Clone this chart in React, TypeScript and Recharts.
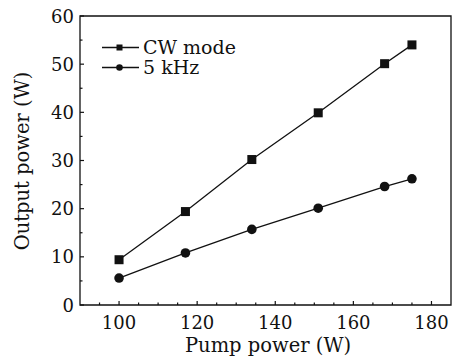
import React from "react";
import { LineChart, Line, XAxis, YAxis, ReferenceArea, Customized } from "recharts";

const pumpPower = [100, 117, 134, 151, 168, 175];
const cwMode = [9.4, 19.4, 30.2, 39.9, 50.1, 54.0];
const khz5 = [5.6, 10.8, 15.7, 20.1, 24.6, 26.2];
const xTicks = [95, 100, 105, 110, 115, 120, 125, 130, 135, 140, 145, 150, 155, 160, 165, 170, 175, 180];
const yTicks = [0, 5, 10, 15, 20, 25, 30, 35, 40, 45, 50, 55, 60];
const seriesNames = ["CW mode", "5 kHz"];

const data = pumpPower.map((p, i) => ({ pump: p, cw: cwMode[i], pulsed: khz5[i] }));

const FONT = "'DejaVu Serif', serif";
const INK = "#111";

const XTick = (props: any) => {
  const { x, y, payload } = props;
  const major = payload.value % 20 === 0;
  return (
    <g>
      <line x1={x} x2={x} y1={y} y2={y - (major ? 4 : 2.5)} stroke={INK} strokeWidth={1.2} />
      {major && (
        <text x={x} y={y + 24} textAnchor="middle" fontFamily={FONT} fontSize={18} fill={INK}>
          {payload.value}
        </text>
      )}
    </g>
  );
};

const YTick = (props: any) => {
  const { x, y, payload } = props;
  const major = payload.value % 10 === 0;
  return (
    <g>
      <line x1={x} x2={x + (major ? 4 : 2.5)} y1={y} y2={y} stroke={INK} strokeWidth={1.2} />
      {major && (
        <text x={x - 6} y={y + 6.5} textAnchor="end" fontFamily={FONT} fontSize={18} fill={INK}>
          {payload.value}
        </text>
      )}
    </g>
  );
};

const SquareDot = (props: any) => {
  const { cx, cy, index } = props;
  return <rect key={index} x={cx - 4.5} y={cy - 4.5} width={9} height={9} fill={INK} />;
};

const CircleDot = (props: any) => {
  const { cx, cy, index } = props;
  return <circle key={index} cx={cx} cy={cy} r={4.8} fill={INK} />;
};

const Extras = () => (
  <g fontFamily={FONT} fill={INK}>
    <text x={268} y={352} textAnchor="middle" fontSize={19.5}>
      Pump power (W)
    </text>
    <text x={29} y={161} textAnchor="middle" fontSize={19.5} transform="rotate(-90 29 161)">
      Output power (W)
    </text>
    {seriesNames.map((name, i) => {
      const cy = 47.5 + i * 20;
      return (
        <g key={name}>
          <line x1={102} x2={139} y1={cy} y2={cy} stroke={INK} strokeWidth={1.3} />
          {i === 0 ? (
            <rect x={116.5} y={cy - 3} width={6} height={6} fill={INK} />
          ) : (
            <circle cx={119.5} cy={cy} r={3.3} fill={INK} />
          )}
          <text x={143} y={cy + 6.5} fontSize={19}>
            {name}
          </text>
        </g>
      );
    })}
  </g>
);

export default function App() {
  return (
    <div style={{ position: "fixed", top: 0, left: 0, background: "#fff" }}>
      <LineChart width={453} height={358} data={data} margin={{ top: 16, right: 2, left: 0, bottom: 0 }}>
        <XAxis
          type="number"
          dataKey="pump"
          domain={[90, 185]}
          ticks={xTicks}
          tick={<XTick />}
          tickLine={false}
          tickSize={0}
          tickMargin={0}
          height={53}
          axisLine={false}
          interval={0}
        />
        <YAxis
          type="number"
          domain={[0, 60]}
          ticks={yTicks}
          tick={<YTick />}
          tickLine={false}
          tickSize={0}
          tickMargin={0}
          width={80}
          axisLine={false}
          interval={0}
        />
        <ReferenceArea x1={90} x2={185} y1={0} y2={60} fill="none" stroke={INK} strokeWidth={1.3} ifOverflow="visible" />
        <Line
          dataKey="cw"
          stroke={INK}
          strokeWidth={1.3}
          dot={SquareDot}
          activeDot={false}
          isAnimationActive={false}
        />
        <Line
          dataKey="pulsed"
          stroke={INK}
          strokeWidth={1.3}
          dot={CircleDot}
          activeDot={false}
          isAnimationActive={false}
        />
        <Customized component={Extras} />
      </LineChart>
    </div>
  );
}
